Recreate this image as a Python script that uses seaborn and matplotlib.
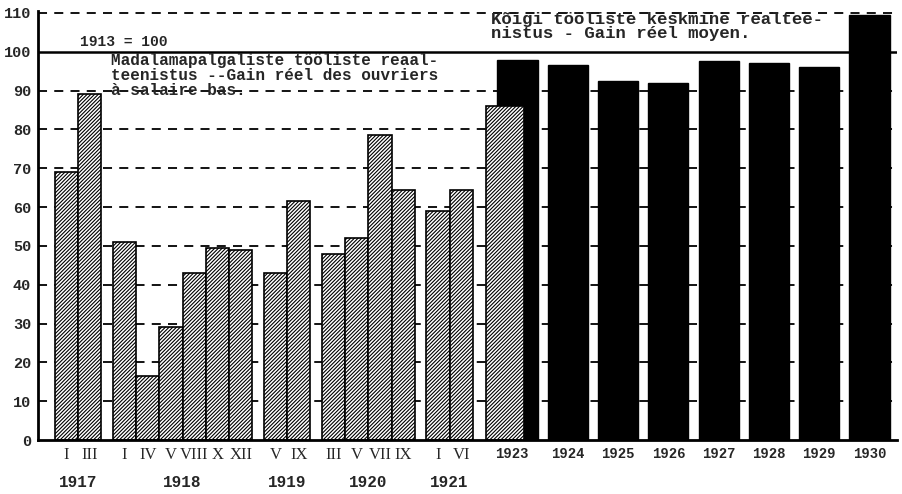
import numpy as np
import seaborn as sns
import matplotlib.pyplot as plt
import matplotlib.transforms as mtransforms

# Real wages of low paid workers (hatched), by month
month_years = ['1917', '1918', '1919', '1920', '1921']
months_1917 = ['I', 'III']
months_1918 = ['I', 'IV', 'V', 'VIII', 'X', 'XII']
months_1919 = ['V', 'IX']
months_1920 = ['III', 'V', 'VII', 'IX']
months_1921 = ['I', 'VI']
wage_1917 = [69, 89]
wage_1918 = [51, 16.5, 29, 43, 49.5, 49]
wage_1919 = [43, 61.5]
wage_1920 = [48, 52, 78.5, 64.5]
wage_1921 = [59, 64.5]
low_wage_1923 = 86

# Average real wage of all workers (black), by year
annual_years = ['1923', '1924', '1925', '1926', '1927', '1928', '1929', '1930']
annual_wage = [98, 96.5, 92.5, 92, 97.5, 97, 96, 109.5]

grid_levels = [10, 20, 30, 40, 50, 60, 70, 80, 90, 110]
y_ticks = [0, 10, 20, 30, 40, 50, 60, 70, 80, 90, 100, 110]

sns.set_style('white')
plt.rcParams['hatch.linewidth'] = 0.8

MONO = 'Liberation Mono'
SERIF = 'Liberation Serif'
HATCH = '/////////'

fig = plt.figure(figsize=(9.02, 4.94), dpi=100)
ax = fig.add_axes([38 / 902, 54 / 494, 859 / 902, 429 / 494])

# positions of the monthly bars: one slot per bar, half a slot between years
month_groups = [months_1917, months_1918, months_1919, months_1920, months_1921]
wage_groups = [wage_1917, wage_1918, wage_1919, wage_1920, wage_1921]
pos, left = [], 0.73
group_centers = []
for g in month_groups:
    xs = [left + 0.5 + i for i in range(len(g))]
    pos.extend(xs)
    group_centers.append(np.mean(xs))
    left += len(g) + 0.5
month_labels = sum(month_groups, [])
month_vals = sum(wage_groups, [])

low_1923_x = 20.13
annual_x = [20.65 + 2.167 * i for i in range(len(annual_years))]

# background grid
for lv in grid_levels:
    ax.axhline(lv, color='black', lw=1.3, ls=(0, (5, 4)), zorder=0.5)
ax.axhline(100, color='black', lw=1.8, zorder=0.5)

sns.barplot(x=pos, y=month_vals, native_scale=True, width=1.0, color='white',
            saturation=1, edgecolor='black', linewidth=1.2, hatch=HATCH,
            errorbar=None, ax=ax, zorder=2)
sns.barplot(x=annual_x, y=annual_wage, native_scale=True, width=0.8, color='black',
            saturation=1, edgecolor='black', linewidth=1.0,
            errorbar=None, ax=ax, zorder=2)
ax.bar(low_1923_x, low_wage_1923, width=1.64, color='white', edgecolor='black',
       linewidth=1.2, hatch=HATCH, zorder=3)

ax.set_xlim(0, 37.0)
ax.set_ylim(0, 110.5)
ax.set_xlabel('')
ax.set_ylabel('')

ax.set_yticks(y_ticks)
ax.set_yticklabels([str(v) for v in y_ticks], family=MONO, fontweight='bold', fontsize=11)
tick_x = pos + [(low_1923_x + annual_x[0]) / 2] + annual_x[1:]
ax.set_xticks(tick_x)
ax.set_xticklabels(month_labels + annual_years)
for lab in ax.get_xticklabels()[:len(month_labels)]:
    lab.set_family(SERIF)
    lab.set_fontsize(12)
for lab in ax.get_xticklabels()[len(month_labels):]:
    lab.set_family(MONO)
    lab.set_fontweight('bold')
    lab.set_fontsize(10)
ax.tick_params(axis='both', length=0, pad=5)

for s in ['top', 'right']:
    ax.spines[s].set_visible(False)
for s in ['left', 'bottom']:
    ax.spines[s].set_linewidth(2)
    ax.spines[s].set_color('black')
    ax.spines[s].set_zorder(4)

# year labels under the monthly groups
trans = mtransforms.blended_transform_factory(ax.transData, ax.transAxes)
for yr, cx in zip(month_years, group_centers):
    ax.text(cx, -0.1, yr, transform=trans, ha='center', va='center',
            family=MONO, fontweight='bold', fontsize=11.5)

ax.text(124 / 902, 1 - 42 / 494, '1913 = 100', transform=fig.transFigure,
        ha='center', va='center', family=MONO, fontweight='bold', fontsize=10.5)
ax.text(111 / 902, 1 - 53 / 494,
        'Madalamapalgaliste tööliste reaal-\nteenistus --Gain réel des ouvriers\nà salaire bas.',
        transform=fig.transFigure, ha='left', va='top', family=MONO,
        fontweight='bold', fontsize=11.5, linespacing=1.0, zorder=5)
ax.text(491 / 902, 1 - 12 / 494,
        'Kõigi tööliste keskmine realtee-\nnistus - Gain réel moyen.',
        transform=fig.transFigure, ha='left', va='top', family=MONO,
        fontweight='bold', fontsize=12.5, linespacing=0.95, zorder=5)

fig.savefig('out.png', dpi=100)
